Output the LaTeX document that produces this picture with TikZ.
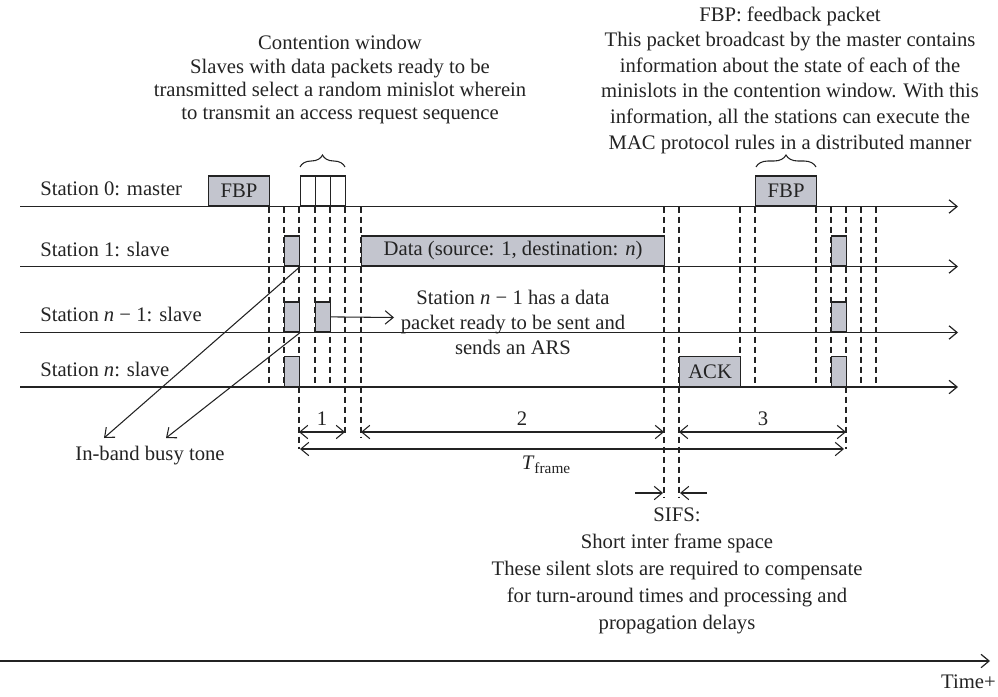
\documentclass[tikz,border=0pt]{standalone}
\usepackage{fontspec}
\setmainfont{Liberation Serif}
\usetikzlibrary{arrows.meta,decorations.pathreplacing}
\definecolor{boxgray}{RGB}{195,197,206}
\definecolor{ink}{RGB}{35,35,35}
\newcommand{\nn}{\textit{n}}
\begin{document}
\begin{tikzpicture}[x=0.75pt,y=-0.75pt,
  font=\fontsize{15.5}{18}\selectfont, text=ink,
  axisline/.style={draw=ink, line width=0.9pt, -{Straight Barb[length=6pt,width=10pt]}},
  dimline/.style={draw=ink, line width=0.8pt, {Straight Barb[length=6pt,width=10pt]}-{Straight Barb[length=6pt,width=10pt]}},
  oneway/.style={draw=ink, line width=0.8pt, -{Straight Barb[length=6pt,width=10pt]}},
  dashline/.style={draw=ink, line width=0.8pt, dash pattern=on 4.5pt off 3pt},
  slotbox/.style={draw=ink, fill=boxgray, line width=0.9pt, inner sep=0pt, anchor=south west, minimum height=22.5pt},
  emptybox/.style={draw=ink, fill=white, line width=0.9pt, inner sep=0pt, anchor=south west, minimum height=22.5pt, minimum width=11.25pt},
  minibox/.style={slotbox, minimum width=11.25pt},
  widebox/.style={slotbox, minimum width=45.75pt},
  stationlabel/.style={anchor=base west, inner sep=0pt},
  bracedeco/.style={draw=ink, line width=0.8pt, decorate, decoration={brace, amplitude=9pt}}
]
\useasboundingbox (0,0) rectangle (998,696);

% dashed time-slot guides
\foreach \xx/\yy in {269/387, 284/387, 299/449, 315/387, 330/387, 345/433, 361/438,
                     664/497, 679/497, 740/387, 755/387, 816/387, 831/387, 846/449, 861/387, 876/387}
  \draw[dashline] (\xx,206.5) -- (\xx,\yy);

% station axes
\coordinate (s0a) at (20,206.5);  \coordinate (s0b) at (958,206.5);
\coordinate (s1a) at (20,266.5);  \coordinate (s1b) at (958,266.5);
\coordinate (s2a) at (20,332.5);  \coordinate (s2b) at (958,332.5);
\coordinate (s3a) at (20,387);    \coordinate (s3b) at (958,387);
\draw[axisline] (s0a) -- (s0b);
\draw[axisline] (s1a) -- (s1b);
\draw[axisline] (s2a) -- (s2b);
\draw[axisline] (s3a) -- (s3b);

\node[stationlabel] (l0) at (40,195) {Station 0: master};
\node[stationlabel] (l1) at (40,256) {Station 1: slave};
\node[stationlabel] (l2) at (40,321) {Station \nn{} − 1: slave};
\node[stationlabel] (l3) at (40,376) {Station \nn: slave};

% station 0
\node[widebox] (fbp1) at (208,206.5) {FBP};
\node[emptybox] (m1) at (300,206.5) {};
\node[emptybox] (m2) at (315,206.5) {};
\node[emptybox] (m3) at (330,206.5) {};
\node[widebox] (fbp2) at (755,206.5) {FBP};

% station 1
\node[minibox] (b1) at (284,266.5) {};
\node[slotbox, minimum width=227.25pt] (data) at (361,266.5) {Data (source: 1, destination: \nn)};
\node[minibox] (r1) at (831,266.5) {};

% station n-1
\node[minibox] (c1) at (284,332.5) {};
\node[minibox] (c2) at (315,332.5) {};
\node[minibox] (r2) at (831,332.5) {};

% station n
\node[minibox] (d1) at (284,387) {};
\node[widebox] (ack) at (679,387) {ACK};
\node[minibox] (r3) at (831,387) {};

% braces and explanations
\draw[bracedeco] (300,167) -- (345,167);
\draw[bracedeco] (756,167) -- (816,167);
\node[align=center, font=\fontsize{15.5}{17.5}\selectfont] (cw) at (340,80)
  {Contention window\\Slaves with data packets ready to be\\transmitted select a random minislot wherein\\to transmit an access request sequence};
\node[align=center, font=\fontsize{15.5}{19.2}\selectfont] (fb) at (790,80)
  {FBP: feedback packet\\This packet broadcast by the master contains\\information about the state of each of the\\minislots in the contention window. With this\\information, all the stations can execute the\\MAC protocol rules in a distributed manner};

% ARS annotation
\coordinate (arsend) at (394,317.5);
\draw[oneway] (c2.east) -- (arsend);
\node[align=center, font=\fontsize{15.5}{18.75}\selectfont] (ars) at (513,322)
  {Station \nn{} − 1 has a data\\packet ready to be sent and\\sends an ARS};

% busy tone
\coordinate (bt1) at (104,438);
\coordinate (bt2) at (166,438);
\draw[oneway] (b1.south east) -- (bt1);
\draw[oneway] (c1.south east) -- (bt2);
\node (busy) at (150,456) {In-band busy tone};

% dimension arrows
\draw[dimline] (299,432) -- (345,432);
\node (n1) at (322,419) {1};
\draw[dimline] (361,432) -- (664,432);
\node (n2) at (522,419) {2};
\draw[dimline] (679,432) -- (846,432);
\node (n3) at (763,419) {3};
\draw[dimline] (300,449) -- (844,449);
\node (tf) at (546,465) {\textit{T}\raisebox{-0.45ex}{\fontsize{11.5}{12}\selectfont frame}};

% SIFS
\draw[oneway] (635,493) -- (663,493);
\draw[oneway] (707,493) -- (680,493);
\node[align=center, font=\fontsize{15.5}{20.2}\selectfont] (sifs) at (677,571)
  {SIFS:\\Short inter frame space\\These silent slots are required to compensate\\for turn-around times and processing and\\propagation delays};

% time axis
\coordinate (ta) at (0,661);
\coordinate (tb) at (990,661);
\draw[axisline] (ta) -- (tb);
\node[anchor=east, inner sep=0pt] (time) at (996,682) {Time+};
\end{tikzpicture}
\end{document}
